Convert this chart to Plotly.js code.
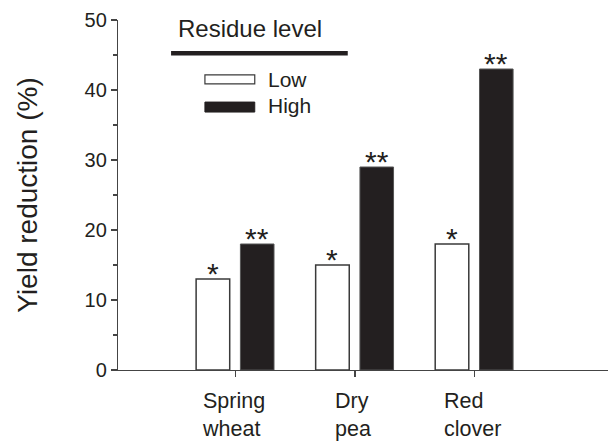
<!DOCTYPE html>
<html>
<head>
<meta charset="utf-8">
<script src="https://cdn.plot.ly/plotly-3.0.1.min.js"></script>
<style>html,body{margin:0;padding:0;background:#fff;overflow:hidden;}#chart{width:608px;height:442px;}</style>
</head>
<body>
<div id="chart"></div>
<script>
// Data
const categories = ["Spring<br>wheat", "Dry<br>pea", "Red<br>clover"];
const lowValues = [13, 15, 18];
const highValues = [18, 29, 43];
const lowMarks = ["*", "*", "*"];
const highMarks = ["**", "**", "**"];
const seriesNames = ["Low", "High"];
const legendTitle = "Residue level";
const yTickVals = [0, 10, 20, 30, 40, 50];

const ink = "#231f20";
const font = "Liberation Sans, Arial, sans-serif";
const pos = categories.map((c, i) => i);
const barW = 0.281;
const lowOff = -0.3285;
const highOff = 0.042;

const traces = [
  {
    type: "bar", name: seriesNames[0], x: pos, y: lowValues,
    width: barW, offset: lowOff,
    marker: {color: "#ffffff", line: {color: "#3a3a3a", width: 1.5}},
    showlegend: false, hoverinfo: "skip"
  },
  {
    type: "bar", name: seriesNames[1], x: pos, y: highValues,
    width: barW, offset: highOff,
    marker: {color: ink, line: {color: "#555", width: 1}},
    showlegend: false, hoverinfo: "skip"
  }
];

const annotations = [];
pos.forEach((p, i) => {
  annotations.push({x: p + lowOff + barW / 2, y: lowValues[i], xref: "x", yref: "y",
    text: lowMarks[i], showarrow: false, yanchor: "bottom", yshift: -13,
    font: {family: font, size: 30, color: ink}});
  annotations.push({x: p + highOff + barW / 2, y: highValues[i], xref: "x", yref: "y",
    text: highMarks[i], showarrow: false, yanchor: "bottom", yshift: -13,
    font: {family: font, size: 30, color: ink}});
  annotations.push({x: p - 0.02, y: 0, xref: "x", yref: "y",
    text: categories[i], showarrow: false, yanchor: "top", xanchor: "center", align: "left",
    yshift: -17, font: {family: font, size: 21.5, color: ink}});
});
// legend
annotations.push({x: 0.2703, y: 0.9758, xref: "paper", yref: "paper", text: legendTitle,
  showarrow: false, xanchor: "center", yanchor: "middle", font: {family: font, size: 24, color: ink}});
annotations.push({x: 0.3028, y: 0.8313, xref: "paper", yref: "paper", text: seriesNames[0],
  showarrow: false, xanchor: "left", yanchor: "middle", font: {family: font, size: 21, color: ink}});
annotations.push({x: 0.3028, y: 0.755, xref: "paper", yref: "paper", text: seriesNames[1],
  showarrow: false, xanchor: "left", yanchor: "middle", font: {family: font, size: 21, color: ink}});

const shapes = [
  {type: "line", xref: "paper", yref: "paper", x0: 0.1083, x1: 0.4689, y0: 0.9051, y1: 0.9051,
    line: {color: ink, width: 4.5}},
  {type: "rect", xref: "paper", yref: "paper", x0: 0.1774, x1: 0.2791, y0: 0.8177, y1: 0.8433,
    fillcolor: "#fff", line: {color: "#3a3a3a", width: 1.2}},
  {type: "rect", xref: "paper", yref: "paper", x0: 0.1774, x1: 0.2791, y0: 0.737, y1: 0.7655,
    fillcolor: ink, line: {color: ink, width: 1}}
];

const layout = {
  width: 608, height: 442,
  margin: {l: 117.5, r: 0, t: 20, b: 71.5, pad: 0, autoexpand: false},
  paper_bgcolor: "#fff", plot_bgcolor: "#fff",
  font: {family: font, color: ink},
  showlegend: false,
  xaxis: {
    range: [-0.982, 3.117], showgrid: false, zeroline: false,
    showline: true, linecolor: "#444", linewidth: 1.2,
    ticks: "outside", ticklen: 6, tickcolor: "#444", tickwidth: 1.2,
    tickvals: pos, showticklabels: false
  },
  yaxis: {
    range: [0, 50], showgrid: false, zeroline: false,
    showline: true, linecolor: "#444", linewidth: 1.2,
    ticks: "outside", ticklen: 6, tickcolor: "#444", tickwidth: 1.2,
    tickvals: yTickVals, tickfont: {family: font, size: 20, color: ink},
    minor: {dtick: 5, ticks: "outside", ticklen: 4, tickcolor: "#444", tickwidth: 1.2, showgrid: false},
    title: {text: "Yield reduction (%)", font: {family: font, size: 28, color: ink}, standoff: 38}
  },
  annotations: annotations,
  shapes: shapes
};

Plotly.newPlot("chart", traces, layout, {displayModeBar: false, staticPlot: true});
</script>
</body>
</html>
